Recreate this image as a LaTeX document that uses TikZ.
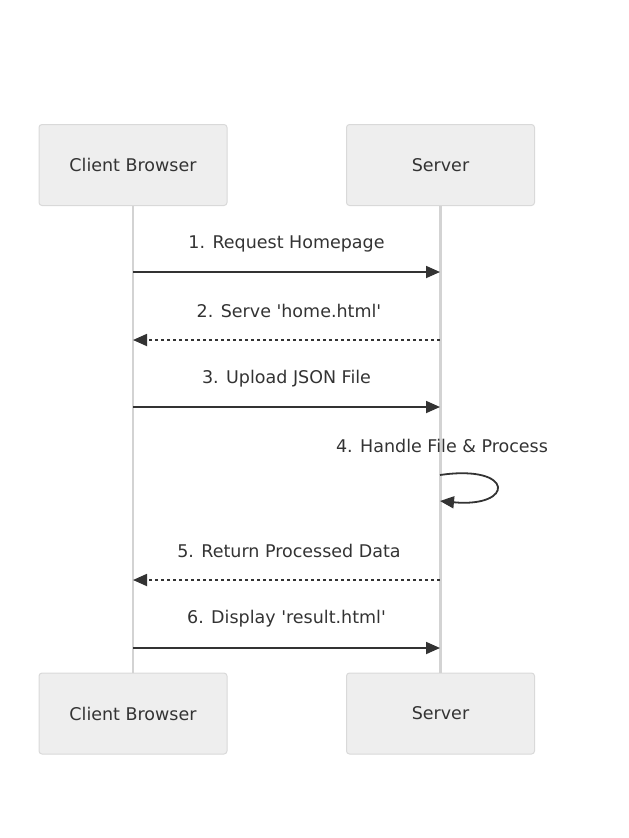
\documentclass[tikz,border=0pt]{standalone}
\usepackage{fontspec}
\setmainfont{DejaVu Sans}
\usetikzlibrary{arrows.meta}
\definecolor{boxfill}{HTML}{EEEEEE}
\definecolor{boxline}{HTML}{D9D9D9}
\definecolor{txt}{HTML}{333333}
\definecolor{life}{HTML}{D3D3D3}
\tikzset{
  actor/.style={draw=boxline, fill=boxfill, rounded corners=3pt, line width=1pt,
    minimum width=188pt, minimum height=81pt, inner sep=0pt, text=txt,
    font=\fontsize{17.5}{21}\selectfont},
  lifeline/.style={draw=life, line width=2.2pt},
  msg/.style={draw=txt, line width=1.8pt, -{Triangle[length=14pt,width=12pt]}},
  dmsg/.style={msg, dash pattern=on 3pt off 3pt},
  lbl/.style={text=txt, font=\fontsize{17.5}{21}\selectfont, inner sep=0pt},
}
\begin{document}
\begin{tikzpicture}[x=1pt,y=-1pt]
\useasboundingbox (0,0) rectangle (629,838);
\node[actor] (c1) at (133,165) {Client Browser};
\node[actor] (s1) at (440.5,165) {Server};
\node[actor] (c2) at (133,713.5) {Client Browser};
\node[actor] (s2) at (440.5,713.5) {Server};
\draw[lifeline] (c1.south) -- (c2.north);
\draw[lifeline] (s1.south) -- (s2.north);
% message anchors
\coordinate (c272) at (133,272); \coordinate (s272) at (440,272);
\coordinate (c340) at (133,340); \coordinate (s340) at (440,340);
\coordinate (c407) at (133,407); \coordinate (s407) at (440,407);
\coordinate (sl1) at (440,475); \coordinate (sl2) at (440,501);
\coordinate (c580) at (133,580); \coordinate (s580) at (440,580);
\coordinate (c648) at (133,648); \coordinate (s648) at (440,648);
\node[lbl] (l1) at (286.5,244) {1. Request Homepage};
\draw[msg] (c272) -- (s272);
\node[lbl] (l2) at (289,311) {2. Serve \textquotesingle home.html\textquotesingle};
\draw[dmsg] (s340) -- (c340);
\node[lbl] (l3) at (286.5,379) {3. Upload JSON File};
\draw[msg] (c407) -- (s407);
\node[lbl] (l4) at (442,446) {4. Handle File \& Process};
\draw[msg] (sl1) .. controls (515,464) and (515,508) .. (sl2);
\node[lbl] (l5) at (289,551) {5. Return Processed Data};
\draw[dmsg] (s580) -- (c580);
\node[lbl] (l6) at (286.5,619) {6. Display \textquotesingle result.html\textquotesingle};
\draw[msg] (c648) -- (s648);
\end{tikzpicture}
\end{document}
